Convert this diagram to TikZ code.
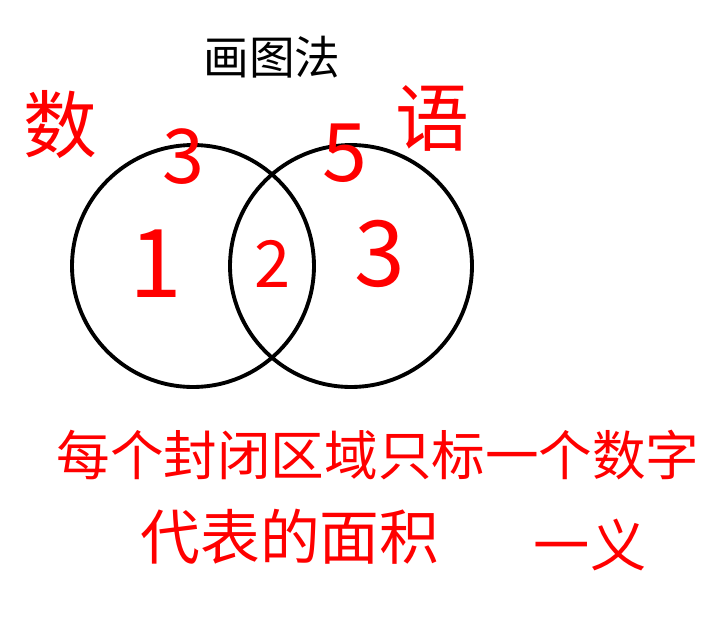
\documentclass[tikz,border=0pt]{standalone}
\usepackage{fontspec}
\newfontfamily\cjk{Noto Sans CJK SC}
\begin{document}
\begin{tikzpicture}[x=0.02cm,y=-0.02cm]
\tikzset{
  ring/.style={circle,draw,line width=2.2pt,minimum size=4.84cm,inner sep=0pt},
  hand/.style={red,inner sep=0pt,font=\cjk\fontsize{#1}{#1}\selectfont},
  hand/.default=30,
}
\useasboundingbox (0,0) rectangle (707,620);
% title
\node[inner sep=0pt,font=\cjk\fontsize{26}{26}\selectfont] (title) at (272,57) {画图法};
% the two sets
\node[ring] (math) at (193,266) {};
\node[ring] (chin) at (351,266) {};
\node[hand=42] (shu) at (60,125) {数};
\node[hand=42] (yu) at (432,118) {语};
% numbers
\node[hand=43] (nA) at (183,157) {3};
\node[hand=46] (nB) at (345,153) {5};
\node[hand=54] (n1) at (156,264) {1};
\node[hand=37] (n2) at (273,264) {2};
\node[hand=52] (n3) at (380,254) {3};
% note
\node[hand=30.5] (line1) at (378,455) {每个封闭区域只标一个数字};
\node[hand=34] (line2) at (290,537) {代表的面积};
\node[hand=32] (mark) at (590,545) {一义};
\end{tikzpicture}
\end{document}
